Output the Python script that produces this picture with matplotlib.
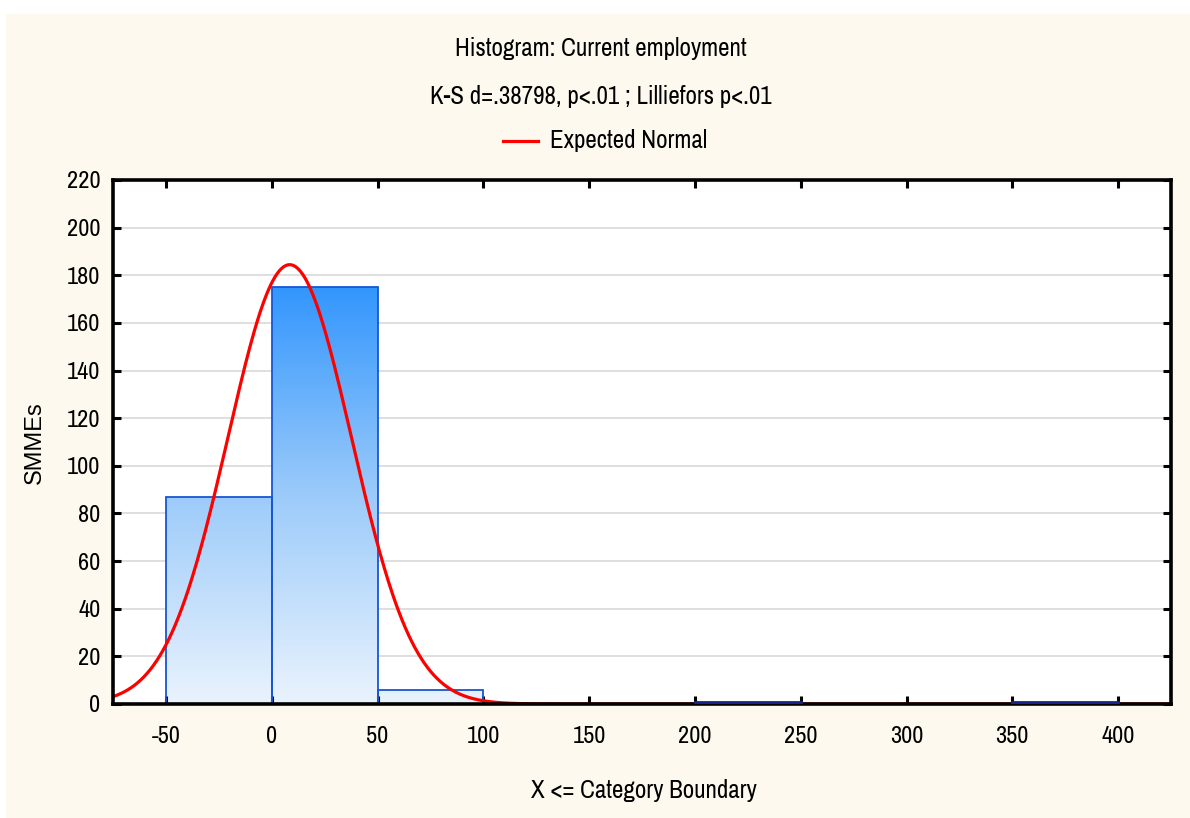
import numpy as np
import matplotlib
matplotlib.use("Agg")
import matplotlib.pyplot as plt
from matplotlib.colors import LinearSegmentedColormap
from matplotlib.patches import Rectangle

plt.rcParams['font.family'] = ['Archivo Narrow', 'Liberation Sans', 'DejaVu Sans']

# Histogram data: upper category boundaries (X <= boundary) and counts
bin_edges = [-50, 0, 50, 100, 150, 200, 250, 300, 350, 400]
counts = [87, 175, 6, 0, 0, 1, 0, 0, 1]
x_ticks = [-50, 0, 50, 100, 150, 200, 250, 300, 350, 400]
y_ticks = [0, 20, 40, 60, 80, 100, 120, 140, 160, 180, 200, 220]

# Parameters of the fitted normal distribution
fit_mean = 8.5
fit_sd = 29.2

title_1 = "Histogram: Current employment"
title_2 = "K-S d=.38798, p<.01 ; Lilliefors p<.01"
legend_label = "Expected Normal"
x_label = "X <= Category Boundary"
y_label = "SMMEs"

CREAM = "#FEF9EE"
FS = 18
FS_TICK = 17.5
W, H = 1190, 818
fig = plt.figure(figsize=(W / 100, H / 100), dpi=100)
fig.patch.set_facecolor("white")
fig.add_artist(Rectangle((6 / W, 0), 1 - 6 / W, 1 - 14 / H, transform=fig.transFigure,
                         facecolor=CREAM, edgecolor="none", zorder=-10))

ax = fig.add_axes([113 / W, 1 - 704 / H, (1171 - 113) / W, (704 - 180) / H])
ax.set_facecolor("white")
ax.set_xlim(-75, 425)
ax.set_ylim(0, 220)

# horizontal grid
for yv in y_ticks[1:-1]:
    ax.axhline(yv, color="#DCDCDC", lw=1.3, zorder=0)

# gradient-filled bars
cmap = LinearSegmentedColormap.from_list("bluegrad", ["#EAF3FD", "#9CCBFA", "#3396FD"])
grad = np.linspace(0, 1, 256).reshape(-1, 1)
widths = np.diff(bin_edges)
for left, w, c in zip(bin_edges[:-1], widths, counts):
    if c <= 0:
        continue
    small = c < 3
    im = ax.imshow(grad, cmap=cmap, origin="lower", aspect="auto",
                   extent=(left, left + w, 0, 175), zorder=1, interpolation="bilinear")
    rect = Rectangle((left, 0), w, c, facecolor="none",
                     edgecolor="#15248A" if small else "#1656D6",
                     lw=2.0 if small else 1.3, zorder=6 if small else 2)
    ax.add_patch(rect)
    im.set_clip_path(rect)

# expected normal curve
n_total = sum(counts)
bin_w = widths[0]
xs = np.linspace(-75, 425, 1000)
ys = n_total * bin_w * np.exp(-0.5 * ((xs - fit_mean) / fit_sd) ** 2) / (fit_sd * np.sqrt(2 * np.pi))
ax.plot(xs, ys, color="#FF0000", lw=2.3, zorder=3, clip_on=True)

# axes styling
for sp in ax.spines.values():
    sp.set_linewidth(2.6)
    sp.set_color("black")
    sp.set_zorder(5)
ax.set_xticks(x_ticks)
ax.set_yticks(y_ticks)
ax.set_xticklabels([str(v) for v in x_ticks])
ax.set_yticklabels([str(v) for v in y_ticks])
ax.tick_params(axis="both", direction="in", length=6, width=2.2, labelsize=FS_TICK,
               top=True, right=True, colors="black")
ax.tick_params(axis="x", pad=16)
ax.tick_params(axis="y", pad=9)

# titles and legend
fig.text(0.505, 1 - 48 / H, title_1, ha="center", va="center", fontsize=FS)
fig.text(0.505, 1 - 96 / H, title_2, ha="center", va="center", fontsize=FS)
fig.add_artist(plt.Line2D([503 / W, 538 / W], [1 - 141 / H, 1 - 141 / H],
                          transform=fig.transFigure, color="#FF0000", lw=2.3))
fig.text(550 / W, 1 - 141 / H, legend_label, ha="left", va="center", fontsize=FS)

fig.text(644 / W, 1 - 790 / H, x_label, ha="center", va="center", fontsize=FS)
fig.text(35 / W, 1 - 443 / H, y_label, ha="center", va="center", rotation=90, fontsize=17,
         family=['Liberation Sans', 'DejaVu Sans'])

fig.savefig("out.png", dpi=100, facecolor=fig.get_facecolor())
